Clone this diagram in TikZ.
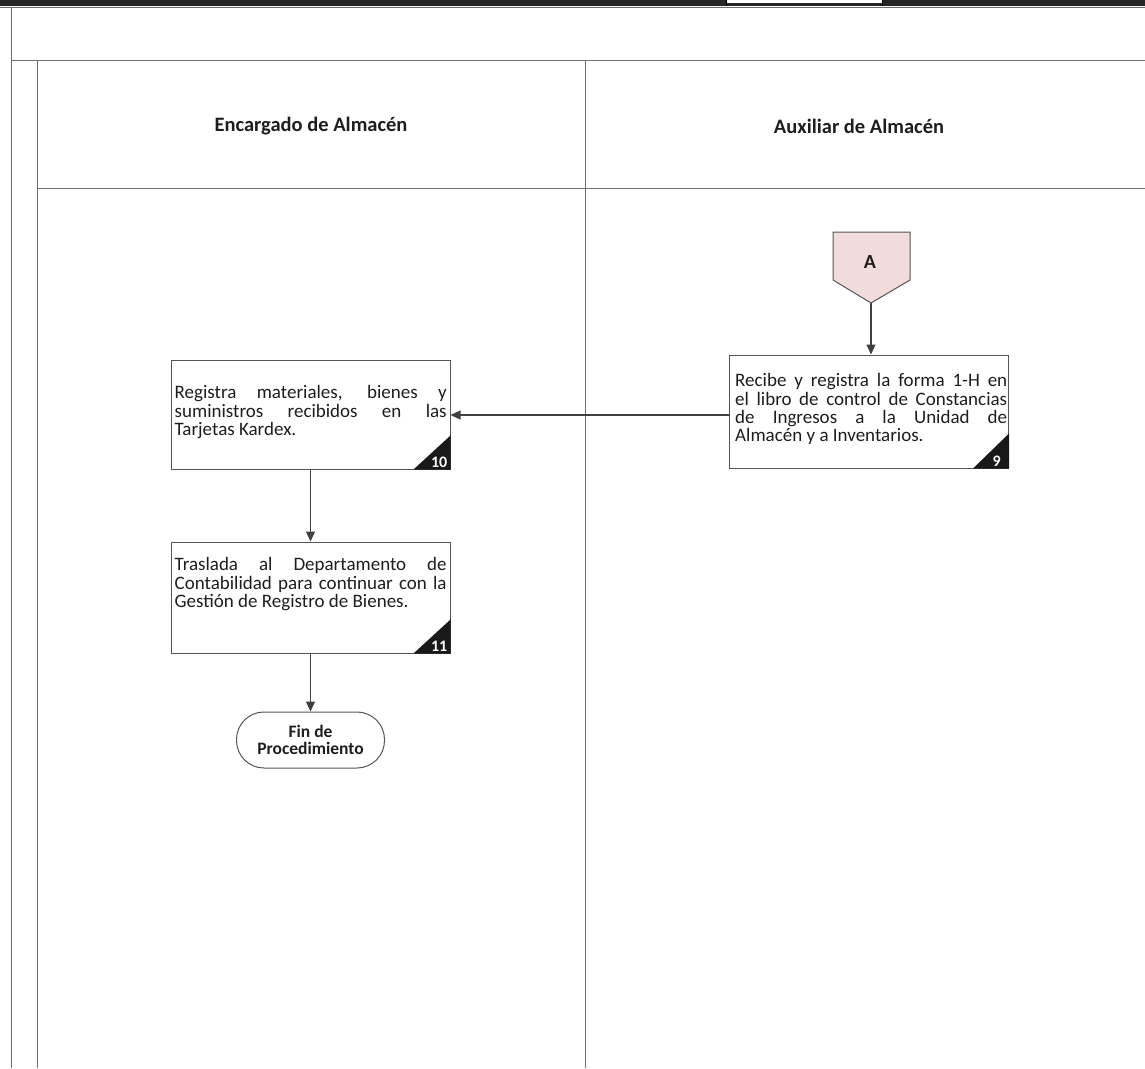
\documentclass[tikz,border=0pt]{standalone}
\usepackage{fontspec}
\setmainfont{Carlito}
\usetikzlibrary{arrows.meta}

\definecolor{lanegray}{HTML}{6E6E6E}
\definecolor{boxgray}{HTML}{555555}
\definecolor{arrowgray}{HTML}{404040}
\definecolor{inkgray}{HTML}{1E1E1E}
\definecolor{connfill}{HTML}{F2DCDB}

\tikzset{
  laneline/.style={draw=lanegray, line width=1pt},
  procbox/.style={draw=boxgray, line width=1pt, rectangle, inner sep=0pt,
                  minimum width=279pt, fill=white},
  boxtext/.style={inner sep=0pt, text=inkgray,
                  font=\fontsize{19}{18.4}\selectfont},
  stepnum/.style={inner sep=0pt, text=white, font=\fontsize{16}{16}\selectfont\bfseries},
  corner/.style={fill=black!90},
  lanehead/.style={inner sep=0pt, text=inkgray, font=\fontsize{20.5}{22}\selectfont\bfseries},
  termbox/.style={draw=boxgray, line width=1pt, rectangle, rounded corners=27.5pt,
                  minimum width=148pt, minimum height=56pt, inner sep=0pt, align=center,
                  text=inkgray, font=\fontsize{17.5}{17}\selectfont\bfseries},
  flow/.style={draw=arrowgray, line width=1.1pt, -{Triangle[length=10pt,width=9pt]}},
}

\begin{document}
\begin{tikzpicture}[x=1pt,y=-1pt]
  % page area
  \fill[white] (0,0) rectangle (1145,1068);
  \useasboundingbox (0,0) rectangle (1145,1068);

  % heavy rule of the table above
  \fill[black!85] (0,0) rectangle (1145,6);
  \fill[white] (727,0) rectangle (882,3);
  \draw[black, line width=1pt] (726.5,0) -- (726.5,6) (882.5,0) -- (882.5,6);
  \draw[lanegray, line width=1pt] (0,7.5) -- (1145,7.5);

  % swimlane frame
  \draw[laneline] (11.5,7.5) -- (11.5,1068);
  \draw[laneline] (11.5,60) -- (1145,60);
  \draw[laneline] (37.5,60) -- (37.5,1068);
  \draw[laneline] (37.5,188) -- (1145,188);
  \draw[laneline] (585,60) -- (585,1068);

  % lane titles
  \node[lanehead] (laneL) at (311,126) {Encargado de Almacén};
  \node[lanehead] (laneR) at (859,126) {Auxiliar de Almacén};

  % off-page connector A
  \coordinate (conA) at (871,303);
  \filldraw[fill=connfill, draw=boxgray, line width=1pt]
    (833,232) -- (910,232) -- (910,280) -- (conA) -- (833,280) -- cycle;
  \node[inner sep=0pt, text=inkgray, font=\fontsize{20}{20}\selectfont\bfseries] (labA) at (870,262) {A};

  % step 9
  \node[procbox, minimum height=113pt] (b9) at (869,411.5) {};
  \node[boxtext, anchor=north west] (t9) at ([xshift=6pt,yshift=-18pt]b9.north west)
    {\parbox[t]{272pt}{\rule{0pt}{14pt}Recibe y registra la forma 1-H en\linebreak
      el libro de control de Constancias\linebreak
      de Ingresos a la Unidad de\linebreak
      Almacén y a Inventarios.}};
  \fill[corner] (b9.south east) -- ++(0,-35) -- ++(-36,35) -- cycle;
  \node[stepnum, anchor=south east] (n9) at ([xshift=-8pt,yshift=2pt]b9.south east) {9};

  % step 10
  \node[procbox, minimum height=109pt] (b10) at (310.5,414.5) {};
  \node[boxtext, anchor=north west] (t10) at ([xshift=4pt,yshift=-25pt]b10.north west)
    {\parbox[t]{272pt}{\rule{0pt}{14pt}Registra materiales, bienes y\linebreak
      suministros recibidos en las\linebreak
      Tarjetas Kardex.}};
  \fill[corner] (b10.south east) -- ++(0,-34) -- ++(-37,34) -- cycle;
  \node[stepnum, anchor=south east] (n10) at ([xshift=-3pt,yshift=2pt]b10.south east) {10};

  % step 11
  \node[procbox, minimum height=111pt] (b11) at (310.5,597.5) {};
  \node[boxtext, anchor=north west] (t11) at ([xshift=4pt,yshift=-15pt]b11.north west)
    {\parbox[t]{272pt}{\rule{0pt}{14pt}Traslada al Departamento de\linebreak
      Contabilidad para continuar con la\linebreak
      Gestión de Registro de Bienes.}};
  \fill[corner] (b11.south east) -- ++(0,-34) -- ++(-37,34) -- cycle;
  \node[stepnum, anchor=south east] (n11) at ([xshift=-3pt,yshift=2pt]b11.south east) {11};

  % end of procedure
  \node[termbox] (fin) at (310.5,740) {Fin de\\Procedimiento};

  % flow
  \draw[flow] (conA) -- (conA |- b9.north);
  \draw[flow] ([yshift=-3.5pt]b9.west) -- ([yshift=-3.5pt]b9.west -| b10.east);
  \draw[flow] (b10.south) -- (b11.north);
  \draw[flow] (b11.south) -- (fin.north);
\end{tikzpicture}
\end{document}
